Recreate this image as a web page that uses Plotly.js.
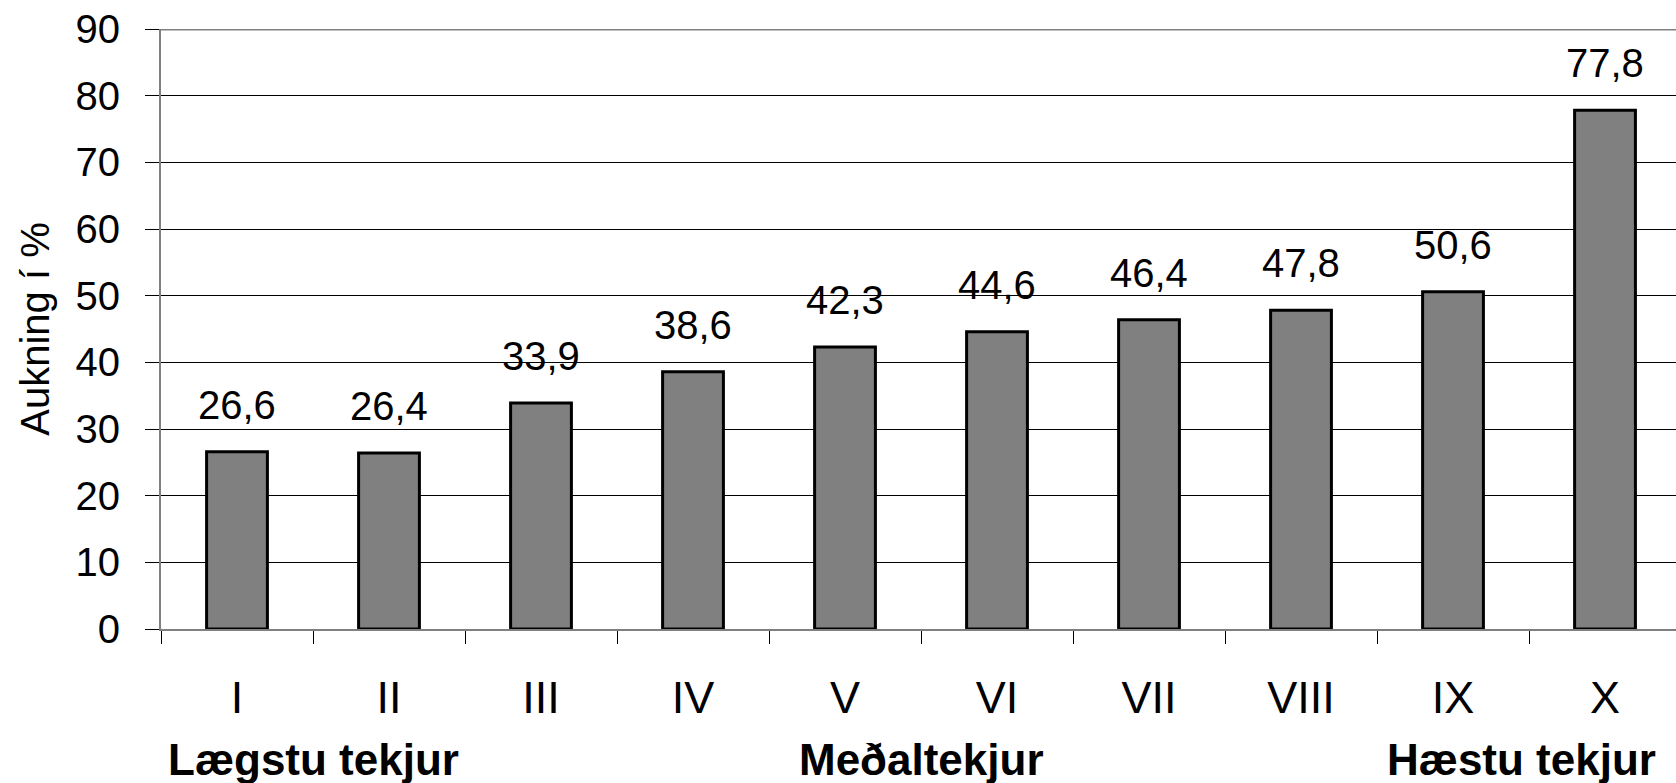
<!DOCTYPE html>
<html>
<head>
<meta charset="utf-8">
<script src="https://cdn.plot.ly/plotly-3.0.1.min.js"></script>
<style>
  html, body { margin: 0; padding: 0; background: #ffffff; }
  #chart { width: 1676px; height: 783px; }
</style>
</head>
<body>
<div id="chart"></div>
<script>
// ---- data ----
const categories = ["I", "II", "III", "IV", "V", "VI", "VII", "VIII", "IX", "X"];
const values = [26.6, 26.4, 33.9, 38.6, 42.3, 44.6, 46.4, 47.8, 50.6, 77.8];
const valueLabels = ["26,6", "26,4", "33,9", "38,6", "42,3", "44,6", "46,4", "47,8", "50,6", "77,8"];
const groupLabels = ["Lægstu tekjur", "Meðaltekjur", "Hæstu tekjur"];
const groupFrom = ["I", "V", "IX"];
const groupTo = ["II", "VI", "X"];
const yTickValues = [0, 10, 20, 30, 40, 50, 60, 70, 80, 90];
const yTitle = "Aukning í %";

const FONT = "Liberation Sans, Arial, sans-serif";

const trace = {
  type: "bar",
  x: categories,
  y: values,
  width: 0.40,
  marker: { color: "#808080", line: { color: "#000000", width: 3 } },
  hoverinfo: "skip"
};

const annotations = [];
categories.forEach((c, i) => {
  annotations.push({
    x: c, y: values[i], xref: "x", yref: "y",
    text: valueLabels[i], showarrow: false,
    xanchor: "center", yanchor: "bottom", yshift: 23,
    font: { family: FONT, size: 40, color: "#000000" }
  });
});
const groupShift = [0, 0, -8];
groupLabels.forEach((g, k) => {
  const a = categories.indexOf(groupFrom[k]);
  const b = categories.indexOf(groupTo[k]);
  annotations.push({
    x: (a + b) / 2, y: -0.218, xref: "x", yref: "paper",
    text: "<b>" + g + "</b>", showarrow: false,
    xanchor: "center", yanchor: "middle", xshift: groupShift[k],
    font: { family: FONT, size: 44, color: "#000000" }
  });
});

const layout = {
  width: 1676, height: 783,
  margin: { l: 161, r: 0, t: 29, b: 154 },
  paper_bgcolor: "#ffffff",
  plot_bgcolor: "#ffffff",
  showlegend: false,
  xaxis: {
    type: "category",
    range: [-0.5, 9.467],
    tickson: "boundaries",
    ticks: "outside", ticklen: 13, tickwidth: 1, tickcolor: "#000000",
    showline: true, linecolor: "#808080", linewidth: 2,
    showgrid: false, zeroline: false,
    tickfont: { family: FONT, size: 45, color: "#000000" },
    ticklabelstandoff: 28
  },
  yaxis: {
    range: [0, 90],
    tickvals: yTickValues,
    ticktext: yTickValues.map(String),
    ticks: "outside", ticklen: 14, tickwidth: 1, tickcolor: "#000000",
    showline: true, linecolor: "#808080", linewidth: 2, mirror: false,
    showgrid: true, gridcolor: "#000000", gridwidth: 1,
    zeroline: false,
    tickfont: { family: FONT, size: 40, color: "#000000" },
    ticklabelstandoff: 17,
    title: { text: yTitle, font: { family: FONT, size: 40, color: "#000000" }, standoff: 14 },
    automargin: false
  },
  shapes: [
    { type: "line", xref: "paper", yref: "y", x0: 0, x1: 1, y0: 90, y1: 90,
      line: { color: "#808080", width: 3 } }
  ],
  annotations: annotations
};

Plotly.newPlot("chart", [trace], layout, { displayModeBar: false, staticPlot: true });
</script>
</body>
</html>
